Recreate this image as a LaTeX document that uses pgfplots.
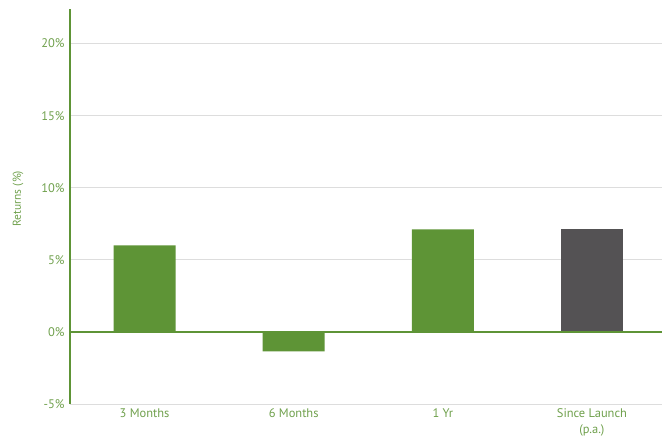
\documentclass[border=0pt]{standalone}
\usepackage{fontspec}
\setmainfont{PT Sans}
\usepackage{pgfplots}
\pgfplotsset{compat=1.18}
\definecolor{barg}{HTML}{5E9436}
\definecolor{bark}{HTML}{545254}
\definecolor{txtg}{HTML}{6FA04C}
\definecolor{gridc}{HTML}{DDDDDD}
\begin{document}
\begin{tikzpicture}
\begin{axis}[
  scale only axis,
  width=592bp, height=395bp,
  xmin=-0.5, xmax=3.47,
  ymin=-5, ymax=22.4,
  axis lines*=left,
  y axis line style={barg, line width=1.6bp},
  x axis line style={gridc, line width=1bp},
  ytick={-5,0,5,10,15,20},
  yticklabels={-5\%,0\%,5\%,10\%,15\%,20\%},
  xtick={0,1,2,3},
  xticklabels={3 Months,6 Months,1 Yr,{Since Launch\\(p.a.)}},
  xticklabel style={align=center, font=\fontsize{12.5}{16}\selectfont, text=txtg, yshift=-1bp},
  yticklabel style={font=\fontsize{12.5}{14}\selectfont, text=txtg, xshift=-2bp},
  major tick length=0pt,
  ymajorgrids,
  grid style={gridc, line width=0.9bp},
  every axis y label/.style={at={(rel axis cs:-0.0878,0.52)}, rotate=90, anchor=center, font=\fontsize{11.5}{13}\selectfont, text=txtg},
  ylabel={Returns (\%)},
  ybar, bar width=62bp,
  clip=false,
]
\addplot[fill=barg, draw=none, bar shift=0pt] coordinates {(0,6.0) (1,-1.35) (2,7.12)};
\addplot[fill=bark, draw=none, bar shift=0pt] coordinates {(3,7.12)};
\addplot[sharp plot, barg, line width=1.6bp, forget plot] coordinates {(-0.5,0) (3.47,0)};
\end{axis}
\path ([shift={(-70bp,-39bp)}]current axis.south west) rectangle ([shift={(3bp,9bp)}]current axis.north east);
\end{tikzpicture}
\end{document}
